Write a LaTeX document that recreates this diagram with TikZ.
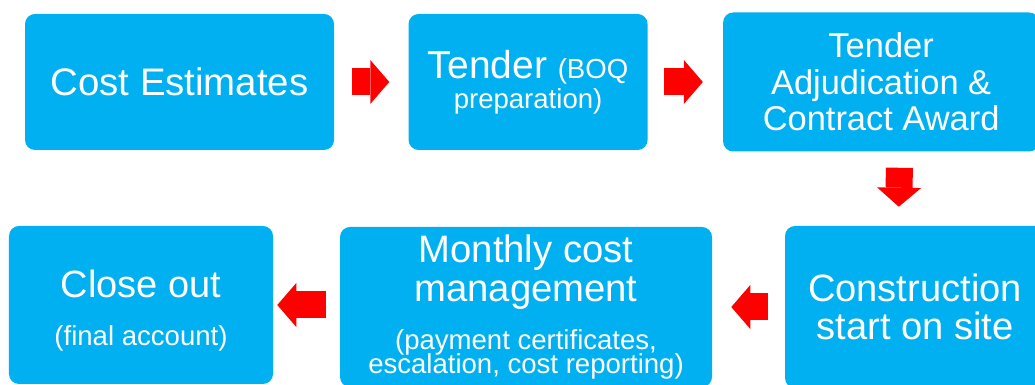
\documentclass[tikz,border=0pt]{standalone}
\usepackage{fontspec}
\setmainfont{Liberation Sans}
\usetikzlibrary{positioning, arrows.meta}
\definecolor{stageblue}{HTML}{00B0F0}

\begin{document}
\begin{tikzpicture}[node distance=1.85cm,
        stage/.style={fill=stageblue, text=white, rounded corners=0.25cm, align=center, inner sep=0pt},
        flow/.style={red, line width=0.675cm, -{Triangle[length=0.475cm, width=1.1cm, line width=0pt]}}]
        \clip (0,0) rectangle (25.875,9.625);

        % Top row
        \node (cost) [stage, minimum width=7.725cm, minimum height=3.4cm, font=\fontsize{27.3}{30}\selectfont] at (4.4875,7.575) {Cost Estimates};
        \node (tender) [stage, minimum width=5.975cm, minimum height=3.4cm, right=of cost, font=\fontsize{27.7}{21.3}\selectfont\setlength{\lineskiplimit}{-100pt}]
            {Tender \fontsize{19.6}{21.3}\selectfont(BOQ\\\fontsize{19.6}{21.3}\selectfont preparation)};
        \node (award) [stage, minimum width=7.9cm, minimum height=3.475cm, right=1.875cm of tender, font=\fontsize{24.5}{26}\selectfont]
            {Tender\\Adjudication \&\\Contract Award};

        % Bottom row
        \node (site) [stage, minimum width=6.5cm, minimum height=4.05cm, font=\fontsize{27.1}{27}\selectfont] at (22.875,1.95) {Construction\\start on site};
        \node (monthly) [stage, minimum width=9.3cm, minimum height=4cm, font=\fontsize{27.2}{27.7}\selectfont\setlength{\lineskiplimit}{-100pt}] at (13.15,1.95)
            {Monthly cost\\management\\[6.4pt]\fontsize{19.6}{16.6}\selectfont (payment certificates,\\[-11.1pt]\fontsize{19.6}{16.6}\selectfont escalation, cost reporting)};
        \node (close) [stage, minimum width=6.6cm, minimum height=3.95cm, font=\fontsize{27}{34.1}\selectfont] at (3.525,2.0)
            {\rule{0pt}{27pt}Close out\\\fontsize{19.6}{34.1}\selectfont (final account)};

        % Arrows
        \draw[flow, shorten <=0.45cm, shorten >=0.475cm] (cost.east) -- (tender.west);
        \draw[flow, shorten <=0.4cm, shorten >=0.5cm] (tender.east) -- (award.west);
        \draw[flow, shorten <=0.4cm, shorten >=0.475cm] ([xshift=0.4625cm]award.south) -- ([xshift=-0.4125cm]site.north);
        \draw[flow, shorten <=0.425cm, shorten >=0.475cm] (site.west) -- (monthly.east);
        \draw[flow, shorten <=0.35cm, shorten >=0.1cm] (monthly.west |- close.east) -- (close.east);
\end{tikzpicture}
\end{document}
